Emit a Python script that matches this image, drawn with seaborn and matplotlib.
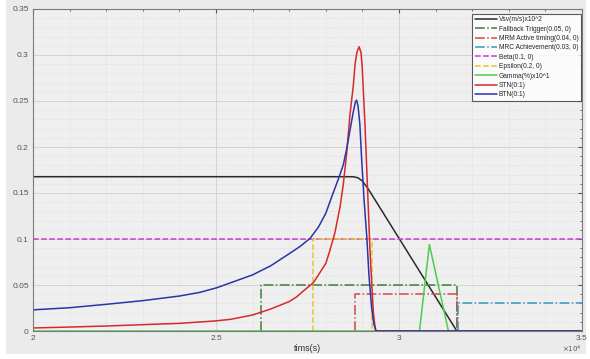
import numpy as np
import pandas as pd
import matplotlib
matplotlib.use("Agg")
import matplotlib.pyplot as plt
import seaborn as sns
from matplotlib.ticker import MultipleLocator, FormatStrFormatter
from matplotlib.patches import Rectangle

# Data (time in seconds)
vsv_t = [20000, 28750, 28880, 29000, 29150, 31580, 35000]
vsv_v = [0.1677, 0.1677, 0.1665, 0.163, 0.155, 0.0, 0.0]

fallback_t = [26230, 26230, 31580, 31580]
fallback_v = [0.0, 0.05, 0.05, 0.0]

mrm_t = [28800, 28800, 31580, 31580]
mrm_v = [0.0, 0.04, 0.04, 0.0]

mrc_t = [31600, 31600, 35000]
mrc_v = [0.0, 0.03, 0.03]

beta_t = [20000, 35000]
beta_v = [0.1, 0.1]

eps_t = [27650, 27650, 29270, 29270]
eps_v = [0.0, 0.1, 0.1, 0.0]

gamma_t = [20000, 30560, 30830, 31350, 35000]
gamma_v = [0.0, 0.0, 0.094, 0.0, 0.0]

stn_t = [20000, 21000, 22000, 23000, 24000, 25000, 25400, 26000, 26500, 27000,
         27200, 27400, 27660, 27800, 28000, 28100, 28250, 28390, 28480, 28570,
         28660, 28750, 28800, 28850, 28910, 28960, 28990, 29020, 29070, 29120,
         29170, 29210, 29260, 29300, 29340, 29370, 35000]
stn_v = [0.0033, 0.0043, 0.0054, 0.0069, 0.0083, 0.011, 0.0127, 0.0174, 0.024, 0.032,
         0.037, 0.044, 0.0525, 0.061, 0.0735, 0.086, 0.107, 0.135, 0.16, 0.193,
         0.235, 0.266, 0.29, 0.303, 0.309, 0.303, 0.29, 0.266, 0.225, 0.175,
         0.125, 0.085, 0.048, 0.02, 0.006, 0.0, 0.0]

btn_t = [20000, 21000, 22000, 23000, 24000, 24560, 25020, 26000, 26500, 27000,
         27300, 27570, 27800, 28000, 28200, 28370, 28480, 28570, 28660, 28750,
         28810, 28840, 28880, 28930, 28980, 29050, 29120, 29180, 29250, 29310,
         29370, 35000]
btn_v = [0.023, 0.0253, 0.029, 0.033, 0.038, 0.042, 0.047, 0.061, 0.071, 0.084,
         0.092, 0.1007, 0.113, 0.128, 0.15, 0.168, 0.181, 0.198, 0.218, 0.238,
         0.249, 0.251, 0.245, 0.225, 0.186, 0.14, 0.1025, 0.06, 0.026, 0.008,
         0.0, 0.0]

series = [
    ("Vsv(m/s)x10^2", vsv_t, vsv_v, "#2b2b2b", "-"),
    ("Fallback Trigger(0.05, 0)", fallback_t, fallback_v, "#3d7f3d", "-."),
    ("MRM Active timing(0.04, 0)", mrm_t, mrm_v, "#cc4a4a", "-."),
    ("MRC Achievement(0.03, 0)", mrc_t, mrc_v, "#3a96b8", "-."),
    ("Beta(0.1, 0)", beta_t, beta_v, "#c83fc8", "--"),
    ("Epsilon(0.2, 0)", eps_t, eps_v, "#e6c23a", "--"),
    ("Gamma(%)x10^1", gamma_t, gamma_v, "#4fcb4f", "-"),
    ("STN(0:1)", stn_t, stn_v, "#d62a2a", "-"),
    ("BTN(0:1)", btn_t, btn_v, "#2a35a8", "-"),
]

sns.set_style("whitegrid")
plt.rcParams["font.family"] = ["Liberation Sans", "DejaVu Sans"]

fig = plt.figure(figsize=(5.9, 3.59), dpi=100, facecolor="white")
fig.patches.append(Rectangle((6 / 590, 5 / 359), 580 / 590, 354 / 359,
                             transform=fig.transFigure, facecolor="#ebebeb",
                             edgecolor="none", zorder=-10))
ax = fig.add_axes([33 / 590, 28 / 359, 549 / 590, 322 / 359])
ax.set_facecolor("#efefef")

for name, t, v, color, ls in series:
    df = pd.DataFrame({"t": t, "v": v})
    sns.lineplot(data=df, x="t", y="v", ax=ax, sort=False, estimator=None,
                 color=color, linestyle=ls, linewidth=1.1, label=name)

ax.set_xlim(20000, 35000)
ax.set_ylim(0, 0.35)
ax.set_xticks([20000, 25000, 30000, 35000])
ax.set_xticklabels(["2", "2.5", "3", "3.5"])
ax.xaxis.set_minor_locator(MultipleLocator(1000))
ax.yaxis.set_major_locator(MultipleLocator(0.05))
ax.yaxis.set_minor_locator(MultipleLocator(0.01))
ax.yaxis.set_major_formatter(FormatStrFormatter("%g"))

ax.grid(which="major", color="#d4d4d4", linewidth=0.7, linestyle="-")
ax.grid(which="minor", color="#d8d8d8", linewidth=0.5, linestyle=":")
ax.tick_params(which="both", direction="in", top=True, right=True,
               labelsize=6, colors="#555555", length=3)
ax.tick_params(which="minor", length=1.5)
ax.tick_params(axis="x", pad=3)
ax.tick_params(axis="y", pad=3)
for s in ax.spines.values():
    s.set_color("#7a7a7a")
    s.set_linewidth(0.8)

ax.set_xlabel("tims(s)", fontsize=6.5, color="#333333", labelpad=1)
ax.set_ylabel("")
ax.text(1.0, -0.058, r"$\times10^4$", transform=ax.transAxes, fontsize=5,
        color="#555555", ha="right", va="center")

leg = ax.legend(loc="upper right", fontsize=4.8, frameon=True, fancybox=False,
                handlelength=3.3, borderpad=0.35, labelspacing=0.36,
                handletextpad=0.3, borderaxespad=0.0,
                bbox_to_anchor=(0.998, 0.985))
leg.get_frame().set_edgecolor("#333333")
leg.get_frame().set_facecolor("white")
leg.get_frame().set_linewidth(0.8)

fig.savefig("out.png", dpi=100, facecolor=fig.get_facecolor())
